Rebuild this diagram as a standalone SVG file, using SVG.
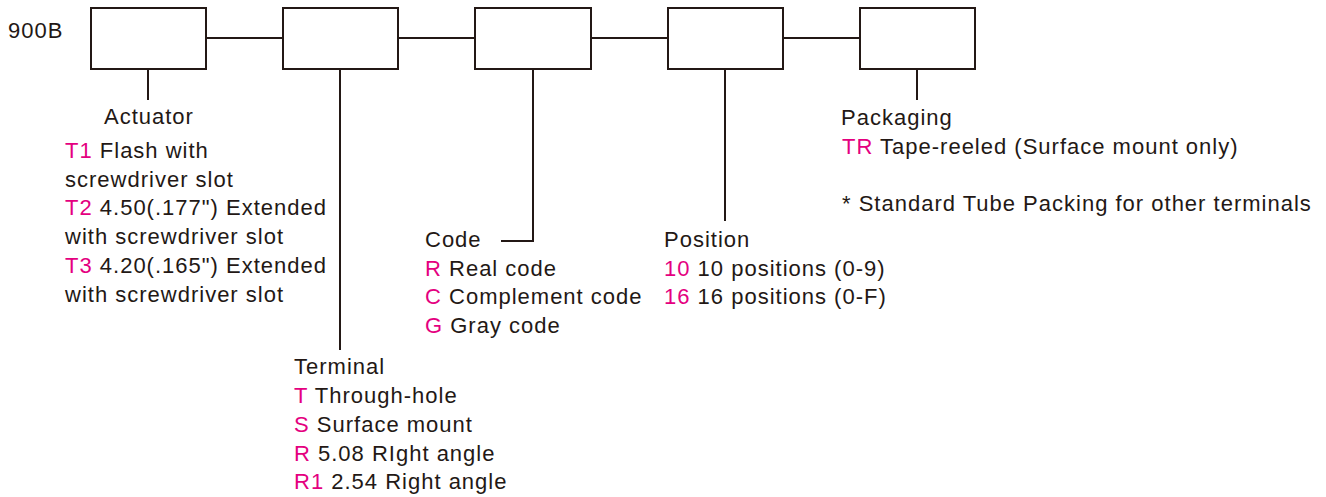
<svg xmlns="http://www.w3.org/2000/svg" width="1326" height="497" viewBox="0 0 1326 497">
<style>
  .box { fill: #ffffff; stroke: #231815; stroke-width: 2; }
  .ln { fill: none; stroke: #231815; stroke-width: 2; }
  text { font-family: "Liberation Sans", Arial, sans-serif; font-size: 22px; fill: #231815; letter-spacing: 1px; }
  .k { fill: #e4007f; }
</style>
<rect width="1326" height="497" fill="#ffffff"/>
<text x="8" y="38">900B</text>
<g id="connectors">
  <line class="ln" x1="206" y1="38" x2="283" y2="38"/>
  <line class="ln" x1="398" y1="38" x2="475" y2="38"/>
  <line class="ln" x1="591" y1="38" x2="668" y2="38"/>
  <line class="ln" x1="783" y1="38" x2="860" y2="38"/>
  <line class="ln" x1="148" y1="69" x2="148" y2="100"/>
  <line class="ln" x1="340" y1="69" x2="340" y2="350"/>
  <polyline class="ln" points="533,69 533,241 501,241"/>
  <line class="ln" x1="725" y1="69" x2="725" y2="221"/>
  <line class="ln" x1="917" y1="69" x2="917" y2="100"/>
</g>
<g id="actuator">
  <rect class="box" x="91" y="8" width="115" height="61"/>
  <text x="104" y="124">Actuator</text>
  <text x="65" y="158"><tspan class="k">T1</tspan> Flash with</text>
  <text x="65" y="187">screwdriver slot</text>
  <text x="65" y="215"><tspan class="k">T2</tspan> 4.50(.177") Extended</text>
  <text x="65" y="244">with screwdriver slot</text>
  <text x="65" y="273"><tspan class="k">T3</tspan> 4.20(.165") Extended</text>
  <text x="65" y="302">with screwdriver slot</text>
</g>
<g id="terminal">
  <rect class="box" x="283" y="8" width="115" height="61"/>
  <text x="294" y="374">Terminal</text>
  <text x="294" y="403"><tspan class="k">T</tspan> Through-hole</text>
  <text x="294" y="432"><tspan class="k">S</tspan> Surface mount</text>
  <text x="294" y="461"><tspan class="k">R</tspan> 5.08 RIght angle</text>
  <text x="294" y="489"><tspan class="k">R1</tspan> 2.54 Right angle</text>
</g>
<g id="code">
  <rect class="box" x="475" y="8" width="116" height="61"/>
  <text x="425" y="247">Code</text>
  <text x="425" y="276"><tspan class="k">R</tspan> Real code</text>
  <text x="425" y="304"><tspan class="k">C</tspan> Complement code</text>
  <text x="425" y="333"><tspan class="k">G</tspan> Gray code</text>
</g>
<g id="position">
  <rect class="box" x="668" y="8" width="115" height="61"/>
  <text x="664" y="247">Position</text>
  <text x="664" y="276"><tspan class="k">10</tspan> 10 positions (0-9)</text>
  <text x="664" y="304"><tspan class="k">16</tspan> 16 positions (0-F)</text>
</g>
<g id="packaging">
  <rect class="box" x="860" y="8" width="115" height="61"/>
  <text x="841" y="125">Packaging</text>
  <text x="842" y="154"><tspan class="k">TR</tspan> Tape-reeled (Surface mount only)</text>
  <text x="842" y="211">* Standard Tube Packing for other terminals</text>
</g>
</svg>
